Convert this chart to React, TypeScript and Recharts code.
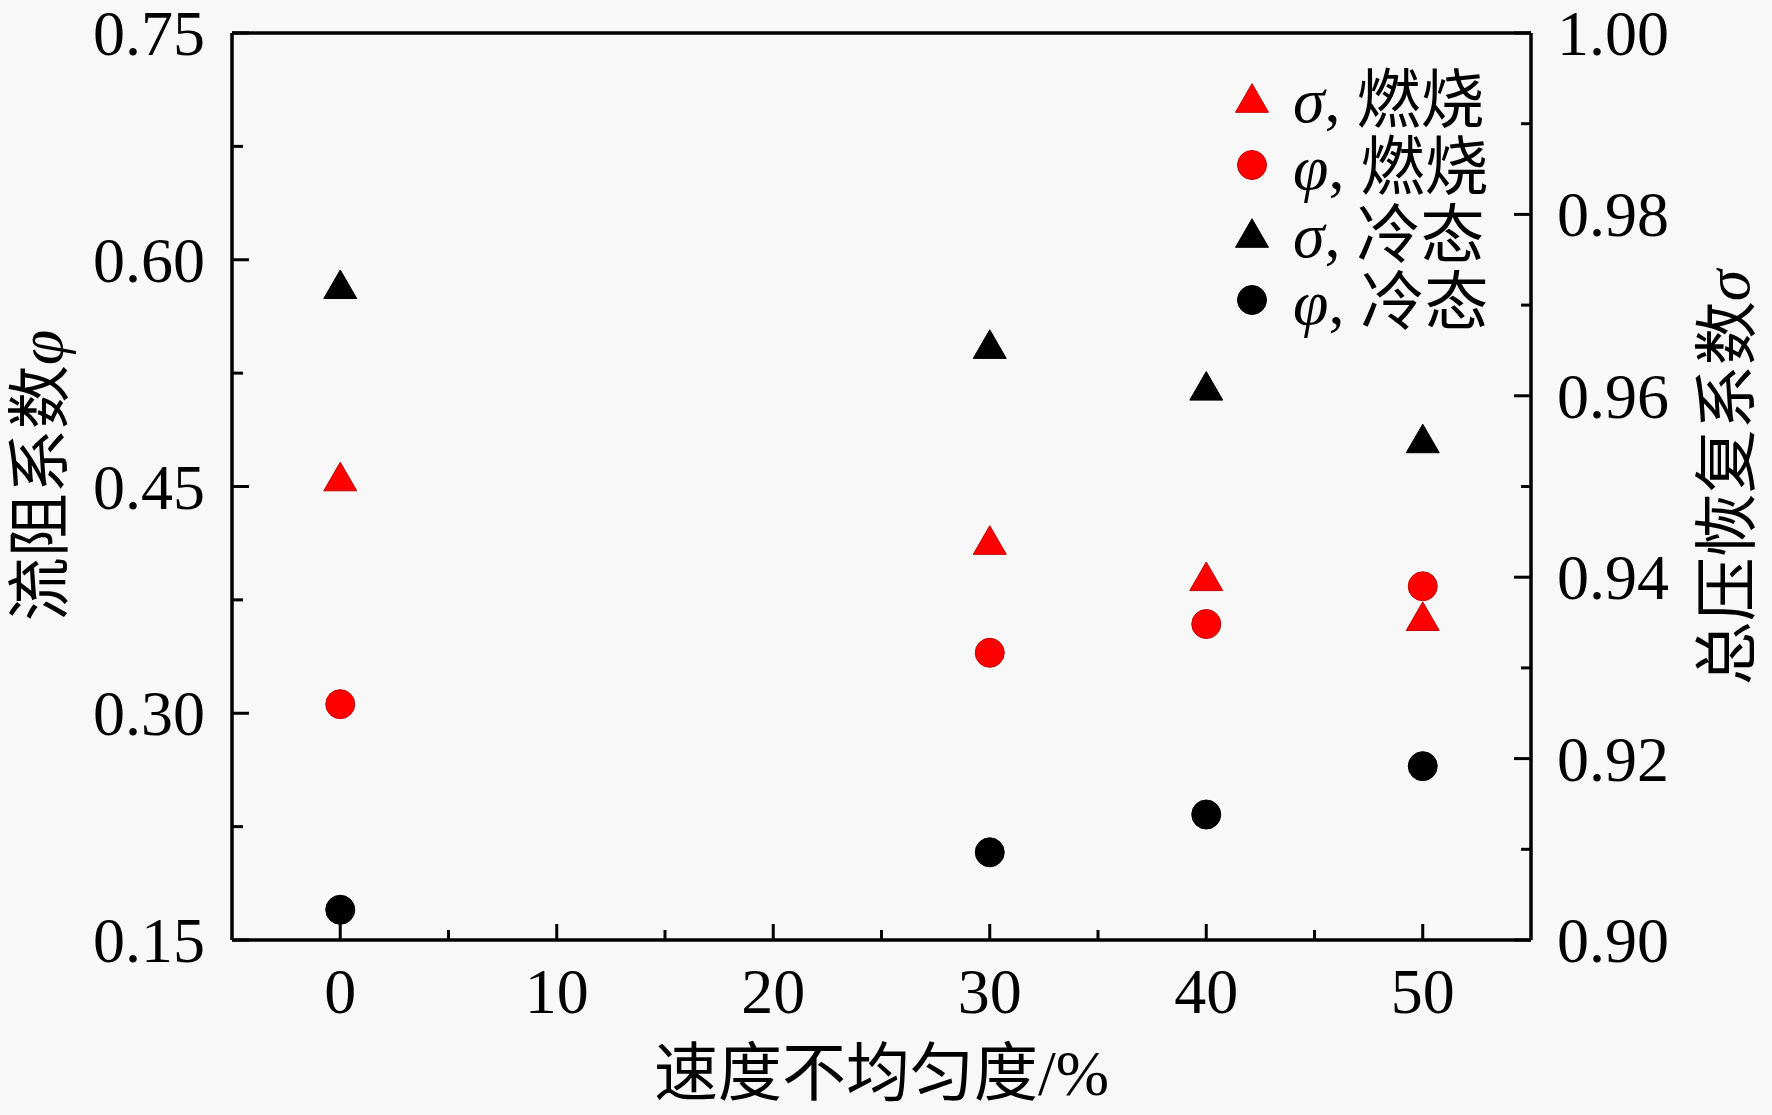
import { Label, Legend, ReferenceLine, Scatter, ScatterChart, XAxis, YAxis } from "recharts";

// 速度不均匀度 (%)
const nonUniformity = [0, 30, 40, 50];

// 总压恢复系数 σ (right axis) and 流阻系数 φ (left axis)
const sigmaCombustion = [0.9511, 0.9441, 0.9401, 0.9357];
const phiCombustion = [0.306, 0.34, 0.359, 0.384];
const sigmaCold = [0.9723, 0.9657, 0.9611, 0.9553];
const phiCold = [0.17, 0.208, 0.233, 0.265];

const xTicks = [0, 10, 20, 30, 40, 50];
const xMinorTicks = [5, 15, 25, 35, 45];
const phiTicks = [0.15, 0.3, 0.45, 0.6, 0.75];
const phiMinorTicks = [0.225, 0.375, 0.525, 0.675];
const sigmaTicks = [0.9, 0.92, 0.94, 0.96, 0.98, 1.0];
const sigmaMinorTicks = [0.91, 0.93, 0.95, 0.97, 0.99];

const FONT = "'Liberation Serif', 'Times New Roman', 'Noto Sans CJK SC', serif";
const FONT_SIZE = 64;
const RED = "#ff0000";
const BLACK = "#000000";

type Shape = "triangle" | "circle";

const series = [
  { key: "sigmaCombustion", symbol: "σ", state: "燃烧", shape: "triangle" as Shape, color: RED, axis: "sigma", values: sigmaCombustion },
  { key: "phiCombustion", symbol: "φ", state: "燃烧", shape: "circle" as Shape, color: RED, axis: "phi", values: phiCombustion },
  { key: "sigmaCold", symbol: "σ", state: "冷态", shape: "triangle" as Shape, color: BLACK, axis: "sigma", values: sigmaCold },
  { key: "phiCold", symbol: "φ", state: "冷态", shape: "circle" as Shape, color: BLACK, axis: "phi", values: phiCold },
];

const isIn = (v: number, list: number[]) => list.some((m) => Math.abs(m - v) < 1e-9);

function Marker({ shape, color, cx, cy }: { shape: Shape; color: string; cx: number; cy: number }) {
  const stroke = color === RED ? "#c80000" : BLACK;
  if (shape === "triangle") {
    const w = 16.5;
    const h = 14.3;
    return (
      <polygon
        points={`${cx},${cy - h} ${cx - w},${cy + h} ${cx + w},${cy + h}`}
        fill={color}
        stroke={stroke}
        strokeWidth={1}
      />
    );
  }
  return <circle cx={cx} cy={cy} r={14.5} fill={color} stroke={stroke} strokeWidth={1} />;
}

function XTick(props: any) {
  const { x, y, payload } = props;
  const major = isIn(payload.value, xTicks);
  return (
    <g>
      <line x1={x} x2={x} y1={y} y2={y - (major ? 16 : 10)} stroke={BLACK} strokeWidth={3} />
      {major && (
        <text x={x} y={y + 73} textAnchor="middle" fontSize={FONT_SIZE} fontFamily={FONT} fill={BLACK}>
          {payload.value}
        </text>
      )}
    </g>
  );
}

function PhiTick(props: any) {
  const { x, y, payload } = props;
  const major = isIn(payload.value, phiTicks);
  return (
    <g>
      <line x1={x} x2={x + (major ? 17 : 11)} y1={y} y2={y} stroke={BLACK} strokeWidth={3} />
      {major && (
        <text x={x - 27} y={y + 22} textAnchor="end" fontSize={FONT_SIZE} fontFamily={FONT} fill={BLACK}>
          {payload.value.toFixed(2)}
        </text>
      )}
    </g>
  );
}

function SigmaTick(props: any) {
  const { x, y, payload } = props;
  const major = isIn(payload.value, sigmaTicks);
  return (
    <g>
      <line x1={x} x2={x - (major ? 17 : 10)} y1={y} y2={y} stroke={BLACK} strokeWidth={3} />
      {major && (
        <text x={x + 26} y={y + 22} textAnchor="start" fontSize={FONT_SIZE} fontFamily={FONT} fill={BLACK}>
          {payload.value.toFixed(2)}
        </text>
      )}
    </g>
  );
}

function XTitle(props: any) {
  const { viewBox } = props;
  const cx = viewBox.x + viewBox.width / 2;
  return (
    <text x={cx} y={viewBox.y + 155} textAnchor="middle" fontSize={FONT_SIZE} fontFamily={FONT} fill={BLACK}>
      速度不均匀度/%
    </text>
  );
}

function PhiTitle(props: any) {
  const { viewBox } = props;
  const cx = viewBox.x + 40;
  const cy = viewBox.y + viewBox.height / 2 - 11;
  return (
    <text
      x={cx}
      y={cy}
      transform={`rotate(-90, ${cx}, ${cy})`}
      textAnchor="middle"
      dominantBaseline="central"
      fontSize={FONT_SIZE}
      fontFamily={FONT}
      fill={BLACK}
    >
      流阻系数<tspan fontStyle="italic">φ</tspan>
    </text>
  );
}

function SigmaTitle(props: any) {
  const { viewBox } = props;
  const cx = viewBox.x + 196;
  const cy = viewBox.y + viewBox.height / 2 - 9;
  return (
    <text
      x={cx}
      y={cy}
      transform={`rotate(-90, ${cx}, ${cy})`}
      textAnchor="middle"
      dominantBaseline="central"
      fontSize={FONT_SIZE}
      fontFamily={FONT}
      fill={BLACK}
    >
      总压恢复系数<tspan fontStyle="italic">σ</tspan>
    </text>
  );
}

function LegendContent() {
  return (
    <div style={{ fontFamily: FONT, fontSize: FONT_SIZE, color: BLACK }}>
      {series.map((s) => (
        <div key={s.key} style={{ display: "flex", alignItems: "center", height: 67.5 }}>
          <svg width={40} height={40} style={{ flex: "none" }}>
            <Marker shape={s.shape} color={s.color} cx={20} cy={20} />
          </svg>
          <span style={{ marginLeft: 21, whiteSpace: "nowrap", position: "relative", top: -4 }}>
            <i>{s.symbol}</i>, {s.state}
          </span>
        </div>
      ))}
    </div>
  );
}

export default function App() {
  return (
    <div style={{ position: "absolute", left: 0, top: 0, width: 1772, height: 1115, background: "#f8f8f8" }}>
      <ScatterChart width={1772} height={1115} margin={{ top: 33, right: 0, bottom: 0, left: 0 }}>
        <XAxis
          dataKey="x"
          type="number"
          domain={[-5, 55]}
          ticks={[...xTicks, ...xMinorTicks].sort((a, b) => a - b)}
          interval={0}
          height={175}
          tickSize={0}
          tickMargin={0}
          tickLine={false}
          tick={XTick}
          axisLine={{ stroke: BLACK, strokeWidth: 3.5 }}
        >
          <Label content={XTitle} />
        </XAxis>
        <YAxis
          yAxisId="phi"
          dataKey="y"
          type="number"
          orientation="left"
          domain={[0.15, 0.75]}
          ticks={[...phiTicks, ...phiMinorTicks].sort((a, b) => a - b)}
          interval={0}
          width={232}
          tickSize={0}
          tickMargin={0}
          tickLine={false}
          tick={PhiTick}
          axisLine={{ stroke: BLACK, strokeWidth: 3.5 }}
        >
          <Label content={PhiTitle} />
        </YAxis>
        <YAxis
          yAxisId="sigma"
          dataKey="y"
          type="number"
          orientation="right"
          domain={[0.9, 1.0]}
          ticks={[...sigmaTicks, ...sigmaMinorTicks].sort((a, b) => a - b)}
          interval={0}
          width={241}
          tickSize={0}
          tickMargin={0}
          tickLine={false}
          tick={SigmaTick}
          axisLine={{ stroke: BLACK, strokeWidth: 3.5 }}
        >
          <Label content={SigmaTitle} />
        </YAxis>
        <ReferenceLine yAxisId="phi" y={0.75} stroke={BLACK} strokeWidth={3.5} />
        {series.map((s) => (
          <Scatter
            key={s.key}
            name={s.key}
            yAxisId={s.axis}
            data={nonUniformity.map((x, i) => ({ x, y: s.values[i] }))}
            isAnimationActive={false}
            shape={(p: any) => <Marker shape={s.shape} color={s.color} cx={p.cx} cy={p.cy} />}
          />
        ))}
        <Legend
          layout="vertical"
          align="center"
          verticalAlign="middle"
          wrapperStyle={{ top: 64, left: 1232, width: 320 }}
          content={LegendContent}
        />
      </ScatterChart>
    </div>
  );
}
